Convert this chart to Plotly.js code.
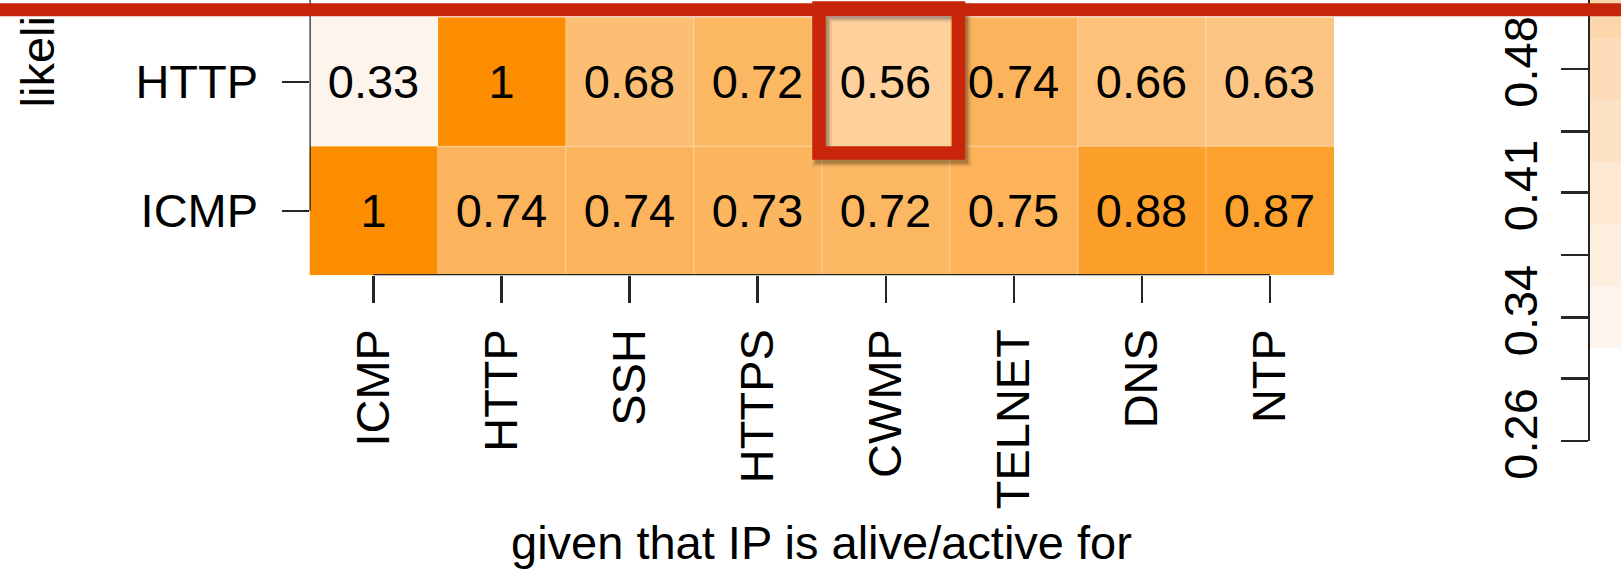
<!DOCTYPE html>
<html><head><meta charset="utf-8">
<script src="https://cdn.plot.ly/plotly-3.0.1.min.js"></script>
<style>html,body{margin:0;padding:0;background:#fff;}#chart{width:1621px;height:570px;}</style>
</head><body><div id="chart"></div>
<script>
// ---- data ----
const columns = ['ICMP', 'HTTP', 'SSH', 'HTTPS', 'CWMP', 'TELNET', 'DNS', 'NTP'];
const rows = ['ICMP', 'HTTP'];
const icmpRow = [1, 0.74, 0.74, 0.73, 0.72, 0.75, 0.88, 0.87];
const httpRow = [0.33, 1, 0.68, 0.72, 0.56, 0.74, 0.66, 0.63];
const legendLevels = [0.26, 0.297, 0.333, 0.37, 0.407, 0.443, 0.48, 0.517];
const legendLabels = ['0.26', '', '0.34', '', '0.41', '', '0.48', ''];
const xTitle = 'given that IP is alive/active for';
const yTitle = 'likeli';
const highlight = {row: 'HTTP', column: 'CWMP'};

// ---- layout geometry (pixels) ----
const W = 1621, H = 570;
const fx = p => p / W;
const fy = p => 1 - p / H;
const FONT = '"Liberation Sans", Arial, Helvetica, sans-serif';
const FS = 47;
const INK = '#262626';
const plotL = 309.5, plotR = 1334, plotB = 275.3, rowH = 129;
const yTop = -0.5 + plotB / rowH;
const zmin = 0.26, zmax = 1;
const sc = v => (v - zmin) / (zmax - zmin);
const colorscale = [[0, '#ffffff'], [sc(0.32), '#ffffff'], [sc(0.33), '#fdf4ee'], [1, '#fc8c00']];

const traces = [
  {
    type: 'heatmap', x: columns, y: rows, z: [icmpRow, httpRow],
    colorscale: colorscale, zmin: zmin, zmax: zmax, showscale: false,
    texttemplate: '%{z}', textfont: {family: FONT, size: FS, color: '#000'},
    hoverinfo: 'skip', xaxis: 'x', yaxis: 'y'
  },
  {
    type: 'heatmap', x: [0], y: legendLevels, z: legendLevels.map(v => [v]),
    colorscale: colorscale, zmin: zmin, zmax: zmax, showscale: false,
    hoverinfo: 'skip', xaxis: 'x2', yaxis: 'y2'
  }
];

const shapes = [];
// subtle cell borders
for (let i = 1; i < columns.length; i++) {
  shapes.push({type: 'line', xref: 'x', yref: 'y', x0: i - 0.5, x1: i - 0.5, y0: -0.5, y1: rows.length - 0.5,
    line: {color: 'rgba(255,255,255,0.35)', width: 1.2}, layer: 'above'});
}
for (let j = 1; j < rows.length; j++) {
  shapes.push({type: 'line', xref: 'x', yref: 'y', x0: -0.5, x1: columns.length - 0.5, y0: j - 0.5, y1: j - 0.5,
    line: {color: 'rgba(255,255,255,0.35)', width: 1.2}, layer: 'above'});
}
// axis lines (R style: first to last tick)
shapes.push({type: 'line', xref: 'x', yref: 'y', x0: 0, x1: columns.length - 1, y0: -0.5, y1: -0.5,
  line: {color: INK, width: 2.5}, layer: 'above'});
shapes.push({type: 'line', xref: 'x', yref: 'y', x0: -0.5, x1: -0.5, y0: 0, y1: yTop,
  line: {color: INK, width: 2.5}, layer: 'above'});
// highlight box with soft shadow
const bx0 = fx(819), bx1 = fx(958.5), by0 = fy(153), by1 = fy(8);
[[20, 0.07], [16, 0.12], [13, 0.16]].forEach(([w, a]) => {
  shapes.push({type: 'rect', xref: 'paper', yref: 'paper', x0: fx(819 + 3), x1: fx(958.5 + 3), y0: fy(153 + 4), y1: fy(8 + 4),
    line: {color: 'rgba(0,0,0,' + a + ')', width: w}, fillcolor: 'rgba(0,0,0,0)', layer: 'above'});
});
shapes.push({type: 'rect', xref: 'paper', yref: 'paper', x0: bx0, x1: bx1, y0: by0, y1: by1,
  line: {color: '#c8250a', width: 13.5}, fillcolor: 'rgba(0,0,0,0)', layer: 'above'});
// red banner at top
shapes.push({type: 'rect', xref: 'paper', yref: 'paper', x0: 0, x1: 1, y0: fy(16.2), y1: fy(3.2),
  line: {width: 0}, fillcolor: '#c6250a', layer: 'above'});

const layout = {
  width: W, height: H,
  margin: {l: 0, r: 0, t: 0, b: 0, autoexpand: false},
  paper_bgcolor: '#ffffff', plot_bgcolor: '#ffffff',
  showlegend: false,
  font: {family: FONT, size: FS, color: '#000'},
  xaxis: {
    domain: [fx(plotL), fx(plotR)], range: [-0.5, columns.length - 0.5],
    type: 'category', categoryarray: columns,
    showgrid: false, zeroline: false, showline: false,
    ticks: 'outside', ticklen: 27, tickwidth: 2.5, tickcolor: INK,
    tickangle: -90, ticklabelstandoff: 7,
    tickfont: {family: FONT, size: FS, color: '#000'},
    anchor: 'y', automargin: false, fixedrange: true
  },
  yaxis: {
    domain: [fy(plotB), 1], range: [-0.5, yTop],
    type: 'category', categoryarray: rows,
    showgrid: false, zeroline: false, showline: false,
    ticks: 'outside', ticklen: 27, tickwidth: 2.5, tickcolor: INK,
    ticklabelstandoff: 14,
    tickfont: {family: FONT, size: FS, color: '#000'},
    anchor: 'x', automargin: false, fixedrange: true
  },
  xaxis2: {
    domain: [fx(1590), 1], range: [-0.5, 0.5], visible: false,
    anchor: 'y2', fixedrange: true
  },
  yaxis2: {
    domain: [fy(441), 1], range: [legendLevels[0], legendLevels[0] + 441 * (legendLevels[6] - legendLevels[0]) / (6 * 62)],
    showgrid: false, zeroline: false, showline: true, linecolor: INK, linewidth: 2.5,
    ticks: 'outside', ticklen: 27, tickwidth: 2.5, tickcolor: INK,
    tickmode: 'array', tickvals: legendLevels, ticktext: legendLabels,
    tickangle: -90, ticklabelstandoff: 5,
    tickfont: {family: FONT, size: FS, color: '#000'},
    anchor: 'x2', side: 'left', automargin: false, fixedrange: true
  },
  annotations: [
    {text: xTitle, xref: 'paper', yref: 'paper', x: fx((plotL + plotR) / 2), y: fy(542),
      xanchor: 'center', yanchor: 'middle', showarrow: false,
      font: {family: FONT, size: FS, color: '#000'}},
    {text: yTitle, xref: 'paper', yref: 'paper', x: fx(37), y: fy(110),
      xanchor: 'center', yanchor: 'bottom', textangle: -90, showarrow: false,
      font: {family: FONT, size: FS, color: '#000'}}
  ],
  shapes: shapes
};

Plotly.newPlot('chart', traces, layout, {staticPlot: true, displayModeBar: false});
</script>
</body></html>
